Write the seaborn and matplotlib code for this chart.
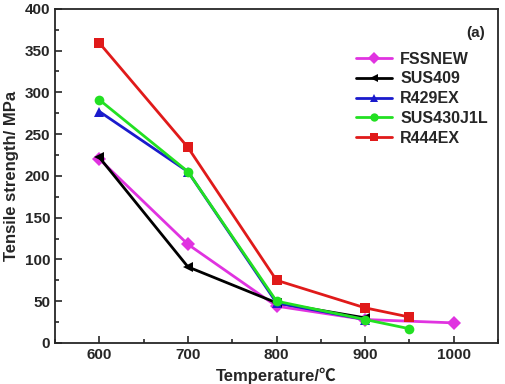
import matplotlib
matplotlib.use("Agg")
import matplotlib.pyplot as plt
import seaborn as sns
import pandas as pd
from matplotlib.ticker import MultipleLocator

sns.set_style("ticks")
plt.rcParams["font.family"] = ["Liberation Sans", "Noto Sans CJK SC", "DejaVu Sans"]
plt.rcParams["font.weight"] = "bold"

# data
fss_t = [600, 700, 800, 900, 1000]
fss_v = [220, 118, 44, 28, 24]
sus409_t = [600, 700, 800, 900]
sus409_v = [222, 91, 48, 30]
r429_t = [600, 700, 800, 900]
r429_v = [277, 205, 48, 28]
sus430_t = [600, 700, 800, 900, 950]
sus430_v = [291, 205, 50, 28, 17]
r444_t = [600, 700, 800, 900, 950]
r444_v = [359, 234, 75, 42, 31]

names = ["FSSNEW", "SUS409", "R429EX", "SUS430J1L", "R444EX"]
temps = [fss_t, sus409_t, r429_t, sus430_t, r444_t]
vals = [fss_v, sus409_v, r429_v, sus430_v, r444_v]

rows = []
for n, t, v in zip(names, temps, vals):
    for a, b in zip(t, v):
        rows.append({"steel": n, "temp": a, "ts": b})
df = pd.DataFrame(rows)

colors = {"FSSNEW": "#e033e0", "SUS409": "#000000", "R429EX": "#1a1acc",
          "SUS430J1L": "#22e022", "R444EX": "#e01a1a"}
markers = {"FSSNEW": "D", "SUS409": "<", "R429EX": "^", "SUS430J1L": "o", "R444EX": "s"}

fig, ax = plt.subplots(figsize=(5.06, 3.84), dpi=100)
sns.lineplot(data=df, x="temp", y="ts", hue="steel", style="steel",
             palette=colors, markers=markers, dashes=False, hue_order=names,
             style_order=names, linewidth=2, markersize=7, markeredgewidth=0,
             ax=ax)

ax.set_xlim(550, 1050)
ax.set_ylim(0, 400)
ax.xaxis.set_major_locator(MultipleLocator(100))
ax.xaxis.set_minor_locator(MultipleLocator(50))
ax.yaxis.set_major_locator(MultipleLocator(50))
ax.yaxis.set_minor_locator(MultipleLocator(25))
ax.tick_params(which="both", direction="in", top=False, right=False, labelsize=11)
ax.tick_params(which="major", length=5, width=1.2)
ax.tick_params(which="minor", length=3, width=1.2)
for s in ax.spines.values():
    s.set_linewidth(1.3)

ax.set_xlabel("Temperature/℃", fontsize=12, fontweight="bold")
ax.set_ylabel("Tensile strength/ MPa", fontsize=12, fontweight="bold")
ax.text(0.97, 0.95, "(a)", transform=ax.transAxes, ha="right", va="top",
        fontsize=11, fontweight="bold")
leg = ax.legend(title=None, frameon=False, loc="upper right", bbox_to_anchor=(1.01, 0.915),
                fontsize=11.5, handlelength=2.3, handletextpad=0.5, labelspacing=0.3)
for h in leg.legend_handles:
    h.set_markersize(6)

plt.subplots_adjust(left=0.109, right=0.984, top=0.977, bottom=0.107)
plt.savefig("out.png", dpi=100)
